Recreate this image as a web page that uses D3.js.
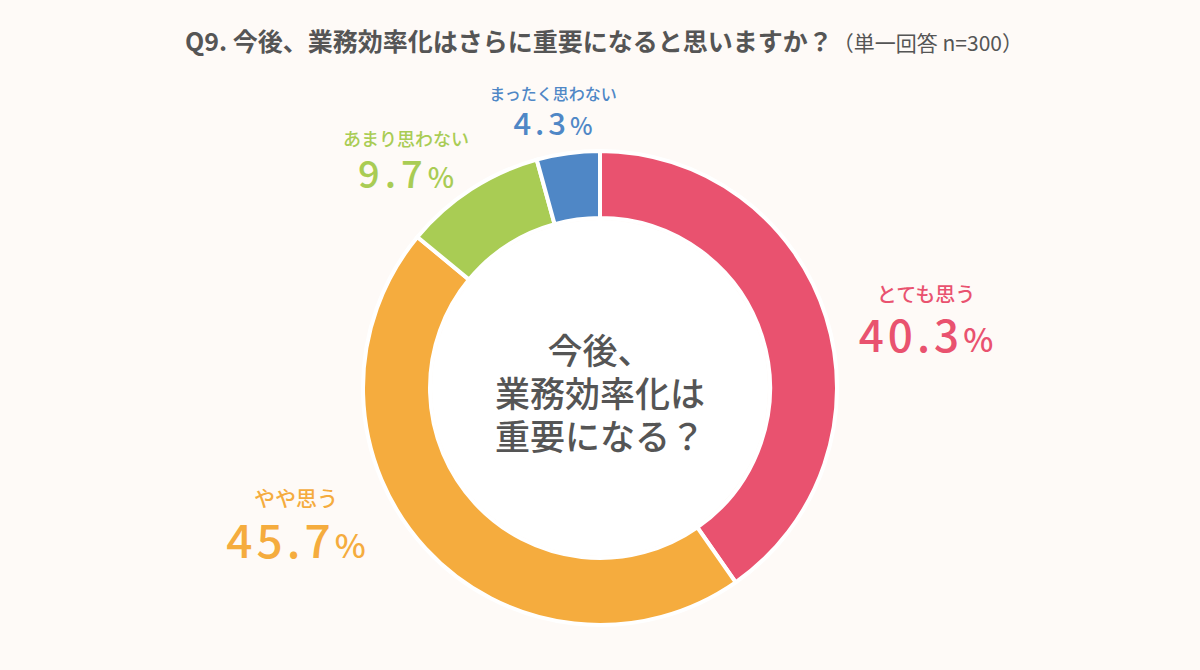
<!DOCTYPE html>
<html>
<head>
<meta charset="utf-8">
<script src="https://cdn.jsdelivr.net/npm/d3@7"></script>
<style>
  html, body { margin: 0; padding: 0; background: #fefaf7; }
  body { width: 1200px; height: 670px; overflow: hidden; }
  text { font-family: "Noto Sans CJK JP", "Noto Sans", sans-serif; }
</style>
</head>
<body>
<div id="chart"></div>
<script>
// answer categories, clockwise from 12 o'clock
var categories = ["とても思う", "やや思う", "あまり思わない", "まったく思わない"];
var values = [40.3, 45.7, 9.7, 4.3];
var colors = ["#e9526f", "#f5ac3e", "#a9cc54", "#4f87c6"];

var titleMain = "Q9. 今後、業務効率化はさらに重要になると思いますか？";
var titleSub = "（単一回答 n=300）";
var centerLines = ["今後、", "業務効率化は", "重要になる？"];

var svgWidth = 1200;
var svgHeight = 670;
var cx = 600, cy = 388;
var outerR = 237, innerR = 170;

// where each label block sits (label text center x, label baseline y)
var labelLayout = [
  { x: 926, y: 302, num: 44, pct: 32, gap: 50, sub: 20, ls: 4 },
  { x: 296, y: 506, num: 46, pct: 33, gap: 52, sub: 21, ls: 4 },
  { x: 406, y: 146, num: 38, pct: 28, gap: 42, sub: 18, ls: 5 },
  { x: 553, y: 100, num: 31, pct: 24, gap: 35, sub: 16, ls: 4 }
];

var svg = d3.select("#chart")
  .append("svg")
  .attr("width", svgWidth)
  .attr("height", svgHeight);

svg.append("rect")
  .attr("width", svgWidth)
  .attr("height", svgHeight)
  .attr("fill", "#fefaf7");

// Title
var title = svg.append("text")
  .attr("x", 604)
  .attr("y", 51)
  .attr("text-anchor", "middle")
  .attr("fill", "#555555");
title.append("tspan")
  .attr("font-size", "25px")
  .attr("font-weight", 700)
  .text(titleMain);
title.append("tspan")
  .attr("font-size", "21px")
  .attr("font-weight", 400)
  .text(titleSub);

var pie = d3.pie()
  .sort(null)
  .value(d => d);

var arc = d3.arc()
  .innerRadius(innerR)
  .outerRadius(outerR);

var arcs = pie(values);

var donut = svg.append("g")
  .attr("transform", `translate(${cx}, ${cy})`);

donut.selectAll("path")
  .data(arcs)
  .enter()
  .append("path")
  .attr("d", arc)
  .attr("fill", (d, i) => colors[i])
  .attr("stroke", "#ffffff")
  .attr("stroke-width", 4)
  .attr("stroke-linejoin", "miter");

donut.append("circle")
  .attr("r", innerR - 2)
  .attr("fill", "#ffffff");

// Center question
svg.append("g")
  .selectAll("text")
  .data(centerLines)
  .enter()
  .append("text")
  .attr("x", cx)
  .attr("y", (d, i) => 364 + i * 43)
  .attr("text-anchor", "middle")
  .attr("font-size", "35px")
  .attr("font-weight", 500)
  .attr("fill", "#555555")
  .text(d => d);

// Labels
var labels = svg.append("g")
  .selectAll("g")
  .data(arcs)
  .enter()
  .append("g");

labels.append("text")
  .attr("x", (d, i) => labelLayout[i].x)
  .attr("y", (d, i) => labelLayout[i].y)
  .attr("text-anchor", "middle")
  .attr("font-size", (d, i) => labelLayout[i].sub + "px")
  .attr("font-weight", 500)
  .attr("fill", (d, i) => colors[i])
  .text((d, i) => categories[i]);

var pct = labels.append("text")
  .attr("x", (d, i) => labelLayout[i].x)
  .attr("y", (d, i) => labelLayout[i].y + labelLayout[i].gap)
  .attr("text-anchor", "middle")
  .attr("font-weight", 500)
  .attr("fill", (d, i) => colors[i]);

pct.append("tspan")
  .attr("font-size", (d, i) => labelLayout[i].num + "px")
  .attr("letter-spacing", (d, i) => labelLayout[i].ls + "px")
  .text(d => d.value.toFixed(1));
pct.append("tspan")
  .attr("font-size", (d, i) => labelLayout[i].pct + "px")
  .text("%");
</script>
</body>
</html>
